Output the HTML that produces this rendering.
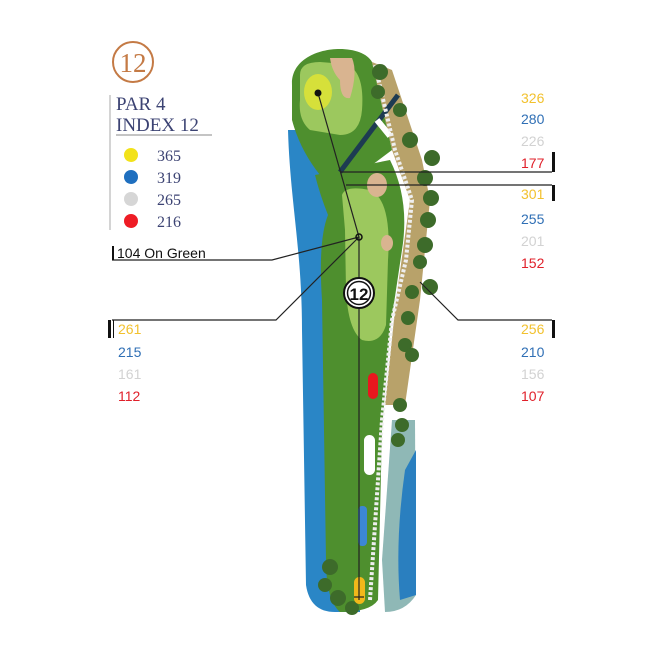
<!DOCTYPE html>
<html><head><style>
body{margin:0;background:#fff;width:664px;height:667px;overflow:hidden}
</style></head><body>
<svg width="664" height="667" viewBox="0 0 664 667" xmlns="http://www.w3.org/2000/svg">
<circle cx="133" cy="62" r="20" fill="none" stroke="#c47a45" stroke-width="2"/>
<text x="133" y="72" font-family="Liberation Serif,serif" font-size="27" fill="#c47a45" text-anchor="middle">12</text>
<line x1="110" y1="95" x2="110" y2="230" stroke="#aaa" stroke-width="1"/>
<text x="116" y="110" font-family="Liberation Serif,serif" font-size="19" fill="#3c4373">PAR 4</text>
<text x="116" y="131" font-family="Liberation Serif,serif" font-size="19" fill="#3c4373">INDEX 12</text>
<line x1="116" y1="135" x2="212" y2="135" stroke="#888" stroke-width="1"/>
<circle cx="131" cy="155" r="7" fill="#f2e21a"/>
<circle cx="131" cy="177" r="7" fill="#1f6fbf"/>
<circle cx="131" cy="199" r="7" fill="#d6d6d6"/>
<circle cx="131" cy="221" r="7" fill="#ee1c25"/>
<g font-family="Liberation Serif,serif" font-size="16" fill="#3c4373">
<text x="157" y="161">365</text><text x="157" y="183">319</text><text x="157" y="205">265</text><text x="157" y="227">216</text>
</g>
<path d="M288,130 C290,200 302,250 302,330 L306,585 Q310,612 335,612 L360,612 L360,130 Z" fill="#2a86c6"/>
<path d="M372,62 L392,70 L422,160 L430,200 L420,300 L405,405 L385,405 L396,300 L410,200 L392,150 Z" fill="#b8a26a"/>
<path d="M392,420 L415,420 L416,595 Q405,612 385,612 L382,560 Z" fill="#8fb8b6"/>
<path d="M405,470 L416,450 L416,595 L400,600 Q395,540 405,470 Z" fill="#2a7fbf"/>
<path d="M292,85 C290,45 360,40 372,62 L392,150 L352,180 L320,175 Q300,150 292,120 Z" fill="#4e8f2e"/>
<path d="M315,175 L390,160 Q410,200 402,250 L390,330 L382,430 L378,600 Q370,612 340,612 Q326,600 326,560 L322,300 Q318,240 328,215 Q320,195 315,175 Z" fill="#4e8f2e"/>
<path d="M300,75 Q300,62 320,62 L345,64 Q365,70 362,110 Q360,135 340,135 L310,130 Q298,120 300,100 Z" fill="#9cc85e"/>
<ellipse cx="318" cy="92" rx="14" ry="18" fill="#d6e03a"/>
<path d="M330,58 L352,58 Q358,72 350,98 Q340,100 340,80 Q332,72 330,58 Z" fill="#d9b490"/>
<path d="M342,195 Q345,185 370,190 Q392,200 388,260 L386,325 Q380,345 362,340 Q348,330 346,290 L345,230 Z" fill="#9cc85e"/>
<ellipse cx="377" cy="185" rx="10" ry="12" fill="#d9b490"/>
<ellipse cx="387" cy="243" rx="6" ry="8" fill="#d9b490"/>
<line x1="398" y1="95" x2="340" y2="172" stroke="#1d3b52" stroke-width="5"/>
<line x1="377" y1="120" x2="390" y2="136" stroke="#fff" stroke-width="6"/>
<path d="M375,65 L395,150 L412,200 L406,260 L392,320 L382,420 L370,600" fill="none" stroke="#eee" stroke-width="4" stroke-dasharray="3,2"/>
<g fill="#3d6b2a">
<circle cx="380" cy="72" r="8"/><circle cx="378" cy="92" r="7"/><circle cx="400" cy="110" r="7"/>
<circle cx="410" cy="140" r="8"/><circle cx="432" cy="158" r="8"/><circle cx="425" cy="178" r="8"/>
<circle cx="431" cy="198" r="8"/><circle cx="428" cy="220" r="8"/><circle cx="425" cy="245" r="8"/>
<circle cx="420" cy="262" r="7"/><circle cx="430" cy="287" r="8"/><circle cx="412" cy="292" r="7"/>
<circle cx="408" cy="318" r="7"/><circle cx="405" cy="345" r="7"/><circle cx="412" cy="355" r="7"/>
<circle cx="400" cy="405" r="7"/><circle cx="402" cy="425" r="7"/><circle cx="398" cy="440" r="7"/>
<circle cx="330" cy="567" r="8"/><circle cx="325" cy="585" r="7"/><circle cx="338" cy="598" r="8"/><circle cx="352" cy="608" r="7"/>
</g>
<rect x="368" y="373" width="10" height="26" rx="5" fill="#e8171e"/>
<rect x="364" y="435" width="11" height="40" rx="5.5" fill="#fff"/>
<rect x="358" y="506" width="9" height="40" rx="4" fill="#3c87d4"/>
<rect x="354" y="577" width="11" height="27" rx="5.5" fill="#f2b81a"/>
<g stroke="#222" stroke-width="1.2" fill="none">
<polyline points="318,93 359,237 359,600"/>
<line x1="354" y1="597" x2="364" y2="597"/>
<line x1="341" y1="172" x2="552" y2="172"/>
<line x1="346" y1="185" x2="552" y2="185"/>
<polyline points="112,260 272,260 359,237"/>
<polyline points="112,320 276,320 359,237"/>
<polyline points="420,282 458,320 552,320"/>
</g>
<circle cx="359" cy="237" r="3" fill="none" stroke="#111" stroke-width="1.5"/>
<circle cx="318" cy="93" r="3.5" fill="#111"/>
<circle cx="359" cy="293" r="15" fill="#fff" stroke="#111" stroke-width="2"/>
<circle cx="359" cy="293" r="11.5" fill="none" stroke="#111" stroke-width="1.5"/>
<text x="359" y="300" font-family="Liberation Sans,sans-serif" font-weight="bold" font-size="17" fill="#111" text-anchor="middle">12</text>
<g fill="#111">
<rect x="112" y="246" width="2" height="14"/><rect x="108" y="320" width="3" height="18"/><rect x="113" y="320" width="1" height="18"/>
<rect x="552" y="152" width="3" height="20"/><rect x="552" y="185" width="3" height="16"/><rect x="552" y="320" width="3" height="18"/>
</g>
<g font-family="Liberation Sans,sans-serif" font-size="14">
<text x="117" y="258" fill="#111">104 On Green</text>
<text x="118" y="334" fill="#f2c12e">261</text><text x="118" y="357" fill="#2f6fb5">215</text><text x="118" y="379" fill="#d2d2d2">161</text><text x="118" y="401" fill="#e0202a">112</text>
<text x="521" y="103" fill="#f2c12e">326</text><text x="521" y="124" fill="#2f6fb5">280</text><text x="521" y="146" fill="#d2d2d2">226</text><text x="521" y="168" fill="#e0202a">177</text>
<text x="521" y="199" fill="#f2c12e">301</text><text x="521" y="224" fill="#2f6fb5">255</text><text x="521" y="246" fill="#d2d2d2">201</text><text x="521" y="268" fill="#e0202a">152</text>
<text x="521" y="334" fill="#f2c12e">256</text><text x="521" y="357" fill="#2f6fb5">210</text><text x="521" y="379" fill="#d2d2d2">156</text><text x="521" y="401" fill="#e0202a">107</text>
</g>
</svg>
</body></html>
